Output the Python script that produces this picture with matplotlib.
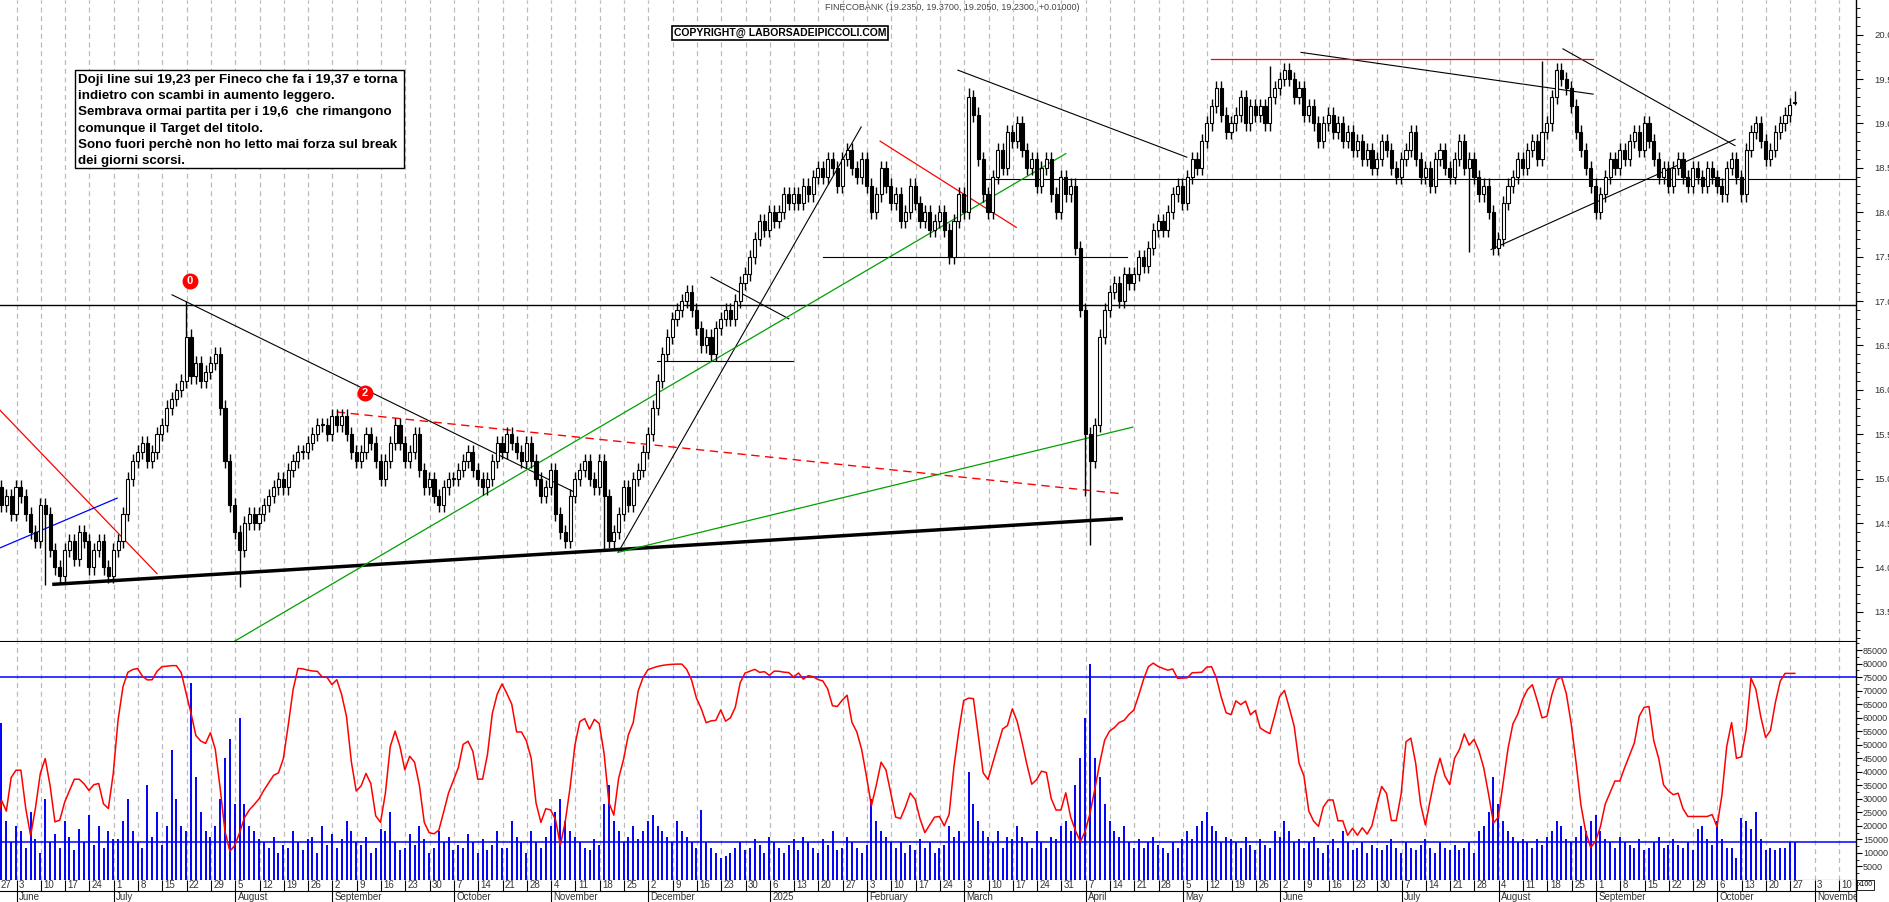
import numpy as np
import matplotlib
matplotlib.use("Agg")
import matplotlib.pyplot as plt
from matplotlib.patches import Rectangle
import datetime as dt

# ---- data: weekly lists of daily closes (week 0 = Mon 27 May 2024) ----
weekly_closes = [
 [14.9,14.7,14.8,14.6,14.9],[14.8,14.6,14.4,14.3,14.7],[14.6,14.2,14.0,13.9,14.2],
 [14.3,14.1,14.4,14.3,14.0],[14.2,14.3,14.0,13.9,14.2],[14.3,14.6,15.0,15.2,15.3],
 [15.4,15.2,15.3,15.5,15.6],[15.8,15.9,16.0,16.1,16.6],[16.15,16.3,16.1,16.2,16.3],
 [16.4,15.8,15.2,14.7,14.4],[14.2,14.5,14.6,14.5,14.6],[14.7,14.8,14.9,15.0,14.9],
 [15.1,15.2,15.3,15.3,15.4],[15.5,15.6,15.6,15.5,15.7],[15.6,15.7,15.5,15.3,15.2],
 [15.3,15.5,15.4,15.2,15.0],[15.2,15.4,15.6,15.4,15.2],[15.3,15.5,15.1,14.9,15.0],
 [14.8,14.7,14.9,15.0,15.0],[15.1,15.2,15.3,15.1,15.0],[14.9,15.0,15.2,15.4,15.3],
 [15.5,15.4,15.3,15.2,15.4],[15.2,15.0,14.8,14.9,15.1],[14.6,14.4,14.3,14.8,15.0],
 [15.1,15.2,15.0,14.9,15.2],[14.8,14.3,14.4,14.6,14.9],[14.7,15.0,15.1,15.3,15.5],
 [15.8,16.1,16.4,16.6,16.8],[16.9,17.0,17.1,16.9,16.7],[16.5,16.6,16.4,16.7,16.8],
 [16.9,16.8,17.0,17.2,17.3],[17.5,17.7,17.9,17.8,18.0],[17.9,18.0,18.2,18.1,18.2],
 [18.1,18.3,18.2,18.4,18.5],[18.4,18.6,18.5,18.3,18.6],[18.7,18.5,18.4,18.6,18.3],
 [18.0,18.2,18.5,18.3,18.1],[18.2,17.9,18.0,18.3,18.1],[17.9,18.0,17.8,17.9,18.0],
 [17.8,17.5,17.9,18.2,18.0],[19.3,19.1,18.6,18.2,18.0],[18.4,18.7,18.5,18.9,18.8],
 [19.0,18.7,18.5,18.6,18.3],[18.5,18.6,18.2,18.0,18.4],[18.2,18.3,17.6,16.9,15.5],
 [15.2,15.6,16.6,16.9,17.1],[17.2,17.0,17.3,17.2,17.3],[17.5,17.4,17.6,17.8,17.9],
 [17.8,18.0,18.2,18.3,18.1],[18.4,18.6,18.5,18.8,19.0],[19.2,19.4,19.1,18.9,19.0],
 [19.1,19.3,19.0,19.2,19.1],[19.2,19.0,19.3,19.4,19.5],[19.6,19.5,19.3,19.4,19.1],
 [19.2,19.0,18.8,19.0,19.1],[18.9,19.0,18.8,18.9,18.7],[18.8,18.6,18.7,18.5,18.6],
 [18.8,18.7,18.5,18.4,18.6],[18.7,18.9,18.6,18.4,18.5],[18.3,18.6,18.7,18.5,18.4],
 [18.6,18.8,18.5,18.6,18.4],[18.2,18.3,18.0,17.6,17.7],[18.1,18.3,18.4,18.6,18.5],
 [18.7,18.8,18.6,18.9,19.0],[19.3,19.6,19.5,19.4,19.2],[18.9,18.7,18.5,18.3,18.0],
 [18.2,18.4,18.6,18.5,18.7],[18.6,18.8,18.9,18.7,19.0],[18.8,18.6,18.4,18.5,18.3],
 [18.5,18.6,18.4,18.3,18.5],[18.4,18.3,18.5,18.4,18.3],[18.2,18.5,18.6,18.4,18.2],
 [18.7,18.9,19.0,18.8,18.6],[18.7,18.9,19.0,19.1,19.21],[19.23],
]
# notable wick extremes (day index -> value)
high_marks = {39: 17.0, 200: 19.4, 318: 19.7, 262: 19.65}
low_marks = {10: 13.8, 50: 13.78, 125: 14.2, 225: 14.25, 303: 17.55, 224: 14.8}
weekly_volume = [  # thousands (x100 shares)
 [38,58,22,14,20],[18,12,25,15,10],[30,14,17,12,22],[16,11,19,14,24],[13,20,12,18,15],
 [15,22,30,18,14],[12,35,16,25,13],[20,48,30,20,18],[73,38,25,18,16],[20,30,45,52,28],
 [60,28,20,18,15],[14,12,16,10,13],[12,18,14,11,15],[16,10,20,13,17],[12,15,22,18,14],
 [13,16,10,12,19],[18,25,14,11,12],[17,13,20,15,10],[12,18,14,16,11],[13,12,17,14,10],
 [15,11,13,18,12],[12,22,16,14,10],[18,14,12,16,20],[25,30,22,18,16],[14,12,11,15,13],
 [28,35,22,18,14],[16,20,15,18,22],[24,20,18,16,14],[22,18,16,14,12],[26,14,12,10,8],
 [9,10,12,14,11],[12,15,13,10,16],[14,12,10,13,15],[11,16,14,12,10],[15,13,18,11,12],
 [16,14,12,10,13],[30,22,18,16,14],[12,14,10,13,11],[15,12,14,10,12],[13,20,16,18,14],
 [40,28,22,18,16],[14,18,12,16,15],[20,16,14,12,18],[14,12,16,15,20],[22,18,35,45,60],
 [80,45,38,28,22],[18,16,20,14,12],[15,12,14,16,13],[12,10,14,12,15],[18,15,20,22,25],
 [20,18,14,16,15],[14,12,16,13,11],[15,13,12,18,16],[22,18,14,15,12],[14,16,12,10,13],
 [15,12,18,14,11],[12,14,10,13,12],[11,13,15,12,10],[14,12,11,13,15],[12,10,14,12,11],
 [13,11,12,14,10],[18,20,25,38,28],[22,18,16,14,15],[14,12,15,13,16],[18,22,20,15,14],
 [16,20,18,22,24],[18,15,14,12,16],[14,13,12,15,11],[12,14,16,12,13],[15,13,12,14,11],
 [19,20,15,13,22],[15,12,12,8,23],[22,19,25,15,11],[12,11,12,12,14],[14],
]
month_names = ["January","February","March","April","May","June","July","August",
               "September","October","November","December"]
title_text = "FINECOBANK (19.2350, 19.3700, 19.2050, 19.2300, +0.01000)"
note_lines = ["Doji line sui 19,23 per Fineco che fa i 19,37 e torna",
              "indietro con scambi in aumento leggero.",
              "Sembrava ormai partita per i 19,6  che rimangono",
              "comunque il Target del titolo.",
              "Sono fuori perchè non ho letto mai forza sul break",
              "dei giorni scorsi."]
# trendlines (day index, price)
black_lines = [((11.8,13.81),(231.4,14.55),2.5),((36.1,17.07),(119.2,14.84),0.8),
               ((127.9,14.17),(177.9,18.96),0.8),((135.9,16.32),(163.9,16.32),0.8),
               ((147,17.27),(163,16.80),0.8),((170,17.5),(232.6,17.5),0.8),
               ((197.8,19.6),(244.9,18.62),0.8),((268.4,19.8),(328.5,19.33),0.8),
               ((307.5,17.58),(357.7,18.82),0.8),((322.3,19.84),(357.7,18.75),0.8),
               ((203,18.37),(382.6,18.37),0.8),((0,16.95),(382.6,16.95),1.0)]
red_lines = [((181.8,18.8),(209.8,17.83)),((249.9,19.72),(328.5,19.72)),((0.7,15.77),(33,13.93))]
red_dashed = [((70,15.75),(231.4,14.83))]
green_lines = [((49,13.17),(220,18.66)),((127.9,14.17),(233.8,15.58))]
blue_lines = [((0.7,14.22),(24.8,14.78))]
markers = [(39.8,17.22,"0"),(75.8,15.96,"2")]

# ---- build series ----
closes, vols, idx = [], [], []
for w, wk in enumerate(weekly_closes):
    for d, c in enumerate(wk):
        idx.append(w*5+d); closes.append(c)
for w, wk in enumerate(weekly_volume):
    for v in wk:
        vols.append(v*1000)
idx = np.array(idx); closes = np.array(closes); vols = np.array(vols[:len(idx)])
opens = np.r_[closes[0]+0.1, closes[:-1]]
opens[-1] = 19.235
highs = np.maximum(opens, closes)+0.08
lows = np.minimum(opens, closes)-0.08
highs[-1] = 19.37; lows[-1] = 19.205
for k, v in high_marks.items():
    if k < len(highs): highs[k] = v
for k, v in low_marks.items():
    if k < len(lows): lows[k] = v
n = 14
kk = []
for i in range(len(closes)):
    s = max(0, i-n+1)
    hh, ll = highs[s:i+1].max(), lows[s:i+1].min()
    kk.append(100*(closes[i]-ll)/(hh-ll) if hh > ll else 50)
kk = np.convolve(kk, np.ones(3)/3, mode="same")
kk[-2:] = kk[-3]
osc = 8000 + np.array(kk)*740

FONT = ["Liberation Sans", "DejaVu Sans"]
plt.rcParams["font.family"] = FONT
W, H = 1890, 902
fig = plt.figure(figsize=(W/100, H/100), dpi=100)
fig.patch.set_facecolor("white")
XL = (0.7, 382.6)
axp = fig.add_axes([0, 1-642/H, 1856/W, 642/H])
axv = fig.add_axes([0, 1-880/H, 1856/W, 238/H])
axd = fig.add_axes([0, 0, 1856/W, 22/H])
for a in (axp, axv, axd):
    a.set_xlim(*XL)
    for s in ("top", "left", "bottom"):
        a.spines[s].set_visible(False)
    a.spines["right"].set_linewidth(1.0)
    a.set_xticks([])
axp.set_ylim(13.16, 20.39)
axv.set_ylim(0, 88000)
axd.set_ylim(0, 2); axd.set_yticks([])
axp.spines["bottom"].set_visible(True); axp.spines["bottom"].set_linewidth(1.5)
axv.spines["bottom"].set_visible(True)

nweeks = len(weekly_closes)+2
for w in range(nweeks):
    gx = w*5-0.9
    for a in (axp, axv):
        a.axvline(gx, color="#bbbbbb", ls=(0, (4, 3)), lw=0.9, zorder=0)

for i in range(len(idx)):
    x = idx[i]; o, c = opens[i], closes[i]
    axp.vlines(x, lows[i], highs[i], color="black", lw=1.0, zorder=3)
    b = min(o, c); h = max(abs(c-o), 0.012)
    axp.add_patch(Rectangle((x-0.32, b), 0.64, h, facecolor="white" if c >= o else "black",
                            edgecolor="black", lw=0.8, zorder=4))

for p0, p1, lw in black_lines:
    axp.plot([p0[0], p1[0]], [p0[1], p1[1]], color="black", lw=lw, zorder=2)
for p0, p1 in red_lines:
    axp.plot([p0[0], p1[0]], [p0[1], p1[1]], color="red", lw=0.9, zorder=2)
for p0, p1 in red_dashed:
    axp.plot([p0[0], p1[0]], [p0[1], p1[1]], color="red", lw=1.0, ls=(0, (6, 4)), zorder=2)
for p0, p1 in green_lines:
    axp.plot([p0[0], p1[0]], [p0[1], p1[1]], color="#00a000", lw=0.9, zorder=2)
for p0, p1 in blue_lines:
    axp.plot([p0[0], p1[0]], [p0[1], p1[1]], color="blue", lw=0.9, zorder=2)
for x, y, t in markers:
    axp.scatter([x], [y], s=110, color="red", zorder=6)
    axp.text(x, y, t, color="white", fontsize=8, fontweight="bold", ha="center", va="center", zorder=7)

axp.yaxis.tick_right()
axp.set_yticks(np.arange(13.5, 20.01, 0.5))
axp.set_yticks(np.arange(13.2, 20.4, 0.1), minor=True)
axp.set_yticklabels([f"{v:.1f}" for v in np.arange(13.5, 20.01, 0.5)], fontsize=6.8, color="#333333")
axp.tick_params(axis="y", which="major", length=5, direction="out", pad=8)
axp.tick_params(axis="y", which="minor", length=3)

axv.vlines(idx, 0, vols, color="blue", lw=1.4, zorder=3)
axv.plot(idx, osc, color="red", lw=1.1, zorder=4)
axv.axhline(75000, color="blue", lw=1.1); axv.axhline(14000, color="blue", lw=1.1)
axv.yaxis.tick_right()
axv.set_yticks(np.arange(5000, 85001, 5000))
axv.set_yticklabels([str(v) for v in range(5000, 85001, 5000)], fontsize=6.5, color="#333333")
axv.set_yticks(np.arange(0, 88000, 2500), minor=True)
axv.tick_params(axis="y", which="major", length=4, pad=1)
axv.tick_params(axis="y", which="minor", length=2)
fig.text(1858/W, 1-885/H, "x100", fontsize=5, va="center",
         bbox=dict(facecolor="white", edgecolor="black", lw=0.6, pad=0.8))

axd.axhline(1.0, color="black", lw=0.8)
start = dt.date(2024, 5, 27)
prev_month = None
for w in range(nweeks):
    d = start + dt.timedelta(days=7*w)
    gx = w*5-0.9
    axd.vlines(gx, 1, 2, color="black", lw=0.8)
    axd.text(max(gx+0.5, 0.8), 1.5, str(d.day), fontsize=7, va="center", ha="left", color="#333333")
    if prev_month is not None and d.month != prev_month:
        axd.vlines(gx, 0, 1, color="black", lw=0.8)
        lab = "2025" if d.month == 1 else month_names[d.month-1]
        axd.text(gx+0.5, 0.45, lab, fontsize=7, va="center", ha="left", color="#333333", clip_on=True)
    prev_month = d.month

fig.text(952/W, 1-7/H, title_text, fontsize=6.5, ha="center", va="center", color="#444444")
fig.text(780/W, 1-33/H, "COPYRIGHT@ LABORSADEIPICCOLI.COM", fontsize=7.5, ha="center", va="center",
         fontweight="bold", bbox=dict(facecolor="white", edgecolor="black", lw=1.2, pad=1.5))
fig.patches.append(Rectangle((75/W, 1-168/H), 329/W, 98/H, transform=fig.transFigure,
                             facecolor="white", edgecolor="black", lw=1.0, zorder=10))
for k, line in enumerate(note_lines):
    fig.text(78/W, 1-(80+k*16.2)/H, line, fontsize=9.6, fontweight="bold", va="center", zorder=11)

fig.savefig("out.png", dpi=100, facecolor="white")
